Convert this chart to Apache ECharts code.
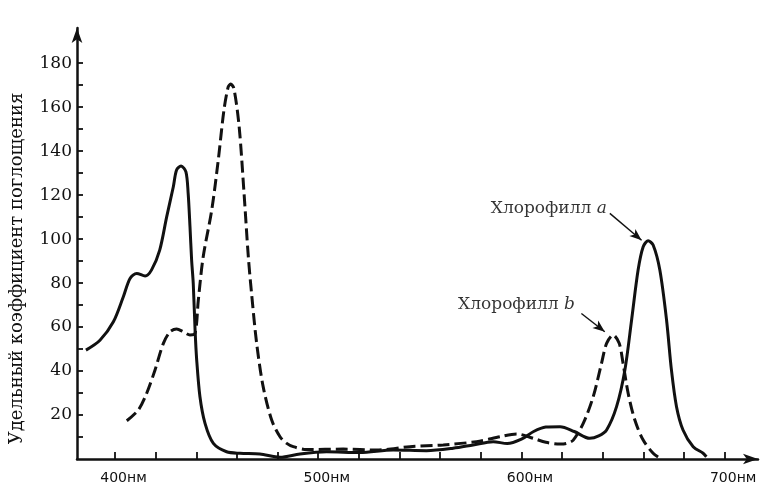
<!DOCTYPE html>
<html>
<head>
<meta charset="utf-8">
<script src="https://cdn.jsdelivr.net/npm/echarts@6/dist/echarts.min.js"></script>
<style>
  html, body { margin: 0; padding: 0; background: #fff; }
  #chart { width: 764px; height: 487px; }
</style>
</head>
<body>
<div id="chart"></div>
<script>
// Absorption spectra of chlorophyll a and b (specific absorption coefficient vs wavelength, nm)
const chlA_nm  = [385.7, 392.6, 399.2, 404.1, 407.4, 410.7, 414.8, 418, 422, 425.4, 428.7, 430.3, 432.5, 434.9, 436, 436.9, 437.7, 438.5, 439.4, 440.2, 441.8, 444.3, 448.4, 454.9, 461.5, 471.3, 481.2, 491, 504.1, 520.5, 536.9, 553.3, 566.4, 576.2, 586.1, 593, 600, 606, 612, 619, 626, 633.6, 638, 641.9, 646.8, 650.9, 654.2, 657.4, 659.9, 662.3, 664.8, 668.1, 671.4, 673.8, 676.3, 679.5, 684.5, 689.4, 691];
const chlA_val = [49.5, 54, 62.4, 73.8, 82.1, 84.4, 83.2, 86, 95, 110, 123.8, 131.4, 133.2, 130.6, 120.8, 105.6, 90.5, 79.9, 58.6, 45, 28.3, 16.2, 7.1, 3.3, 2.6, 2.3, 0.8, 2.3, 3.3, 2.9, 4.1, 3.8, 4.9, 6.4, 7.9, 7, 9, 12.5, 14.5, 14.7, 12.5, 9.4, 10.5, 13.2, 23.8, 40.5, 63.2, 85.9, 96.5, 99.2, 97.3, 85.9, 63.2, 40.5, 23.8, 13.2, 5.6, 2.6, 1];

const chlB_nm  = [405.8, 411.5, 415.6, 419.7, 423.8, 427.1, 430.3, 433.6, 436.9, 439.4, 441, 443.4, 447.6, 450.8, 453.6, 455.7, 456.9, 458.5, 461.1, 463.5, 465.6, 467.2, 469.7, 472.9, 477.1, 481.2, 484.5, 487.7, 494.3, 512.3, 528.7, 545.1, 561.5, 577.9, 589.4, 597.6, 605.8, 612, 618.9, 622.2, 625.5, 630.4, 635.3, 639.4, 641.9, 645.1, 648.1, 650, 652.5, 655.8, 659.9, 664.8, 668];
const chlB_val = [17.4, 22.3, 29.9, 40.5, 52.6, 57.9, 59.1, 57.9, 56.4, 57.1, 72.3, 92, 113.2, 135.9, 158.6, 169.2, 170.5, 168.5, 151, 120.8, 92, 75.3, 52.6, 32.9, 17.7, 10.1, 7.1, 5.6, 4.3, 4.5, 4.1, 5.6, 6.4, 7.9, 10.1, 11.4, 9.4, 7.6, 6.8, 7.1, 8.6, 16.2, 28.3, 43.5, 52.6, 56.4, 52.6, 43.5, 29.9, 17.7, 8.6, 2.6, 0.5];

// Axis ticks and labels
const xTicks  = [400, 420, 440, 460, 480, 500, 520, 540, 560, 580, 600, 620, 640, 660, 680, 700];
const xLabels = [400, 500, 600, 700];
const yTicks  = [10, 20, 30, 40, 50, 60, 70, 80, 90, 100, 110, 120, 130, 140, 150, 160, 170, 180];
const yLabels = [20, 40, 60, 80, 100, 120, 140, 160, 180];

// Curve captions and their pointer arrows: [nm, value]
const captionA = [642, 114];
const captionB = [626.3, 70];
const arrowA = [[643.5, 111.7], [659.1, 99.5]];
const arrowB = [[629.5, 66.2], [641, 57.9]];

const zip = (xs, ys) => xs.map((x, i) => [x, ys[i]]);
const ink = '#111111';
const serif = '"DejaVu Serif", "Liberation Serif", serif';

const chart = echarts.init(document.getElementById('chart'), null, { renderer: 'canvas' });

const arrowLine = (pts) => ({
  silent: true,
  symbol: ['none', 'arrow'],
  symbolSize: [7, 12],
  label: { show: false },
  lineStyle: { color: ink, width: 1.4, type: 'solid', curveness: 0.12 },
  emphasis: { disabled: true },
  data: [[{ coord: pts[0] }, { coord: pts[1] }]]
});

const caption = (pos, letter) => ({
  type: 'scatter',
  silent: true,
  symbolSize: 0,
  data: [pos],
  label: {
    show: true,
    position: 'left',
    distance: 0,
    formatter: '{t|Хлорофилл }{i|' + letter + '}',
    rich: {
      t: { fontFamily: serif, fontSize: 17, color: '#000' },
      i: { fontFamily: serif, fontSize: 17, fontStyle: 'italic', color: '#000' }
    }
  },
  z: 5
});

chart.setOption({
  animation: false,
  backgroundColor: '#ffffff',
  grid: { left: 77, right: 6, top: 28, bottom: 28, outerBoundsMode: 'none', containLabel: false },
  xAxis: {
    type: 'value',
    min: 381.3,
    max: 716.4,
    splitLine: { show: false },
    axisLine: {
      onZero: false,
      symbol: ['none', 'arrow'],
      symbolSize: [8, 15],
      lineStyle: { color: ink, width: 2.5 }
    },
    axisTick: {
      inside: true,
      length: 7,
      customValues: xTicks,
      lineStyle: { color: ink, width: 1.8 }
    },
    axisLabel: {
      customValues: xLabels,
      margin: 12,
      padding: [0, 0, 0, 17],
      fontFamily: '"DejaVu Sans", sans-serif',
      fontSize: 14,
      color: ink,
      formatter: (v) => v + 'нм'
    }
  },
  yAxis: {
    type: 'value',
    min: 0,
    max: 196,
    name: 'Удельный коэффициент поглощения',
    nameLocation: 'middle',
    nameGap: 51,
    nameRotate: 90,
    nameTextStyle: { fontFamily: serif, fontSize: 18, color: ink, padding: [0, 50, 0, 0] },
    splitLine: { show: false },
    axisLine: {
      onZero: false,
      symbol: ['none', 'arrow'],
      symbolSize: [8, 15],
      lineStyle: { color: ink, width: 2.5 }
    },
    axisTick: {
      inside: true,
      length: 6,
      customValues: yTicks,
      lineStyle: { color: ink, width: 1.8 }
    },
    axisLabel: {
      customValues: yLabels,
      margin: 5,
      fontFamily: serif,
      fontSize: 17,
      color: ink
    }
  },
  series: [
    {
      name: 'Хлорофилл a',
      type: 'line',
      data: zip(chlA_nm, chlA_val),
      smooth: 0.3,
      showSymbol: false,
      lineStyle: { color: ink, width: 3, type: 'solid' },
      markLine: arrowLine(arrowA),
      z: 3
    },
    {
      name: 'Хлорофилл b',
      type: 'line',
      data: zip(chlB_nm, chlB_val),
      smooth: 0.3,
      showSymbol: false,
      lineStyle: { color: ink, width: 3, type: [12, 5] },
      markLine: arrowLine(arrowB),
      z: 3
    },
    caption(captionA, 'a'),
    caption(captionB, 'b')
  ]
});
</script>
</body>
</html>
